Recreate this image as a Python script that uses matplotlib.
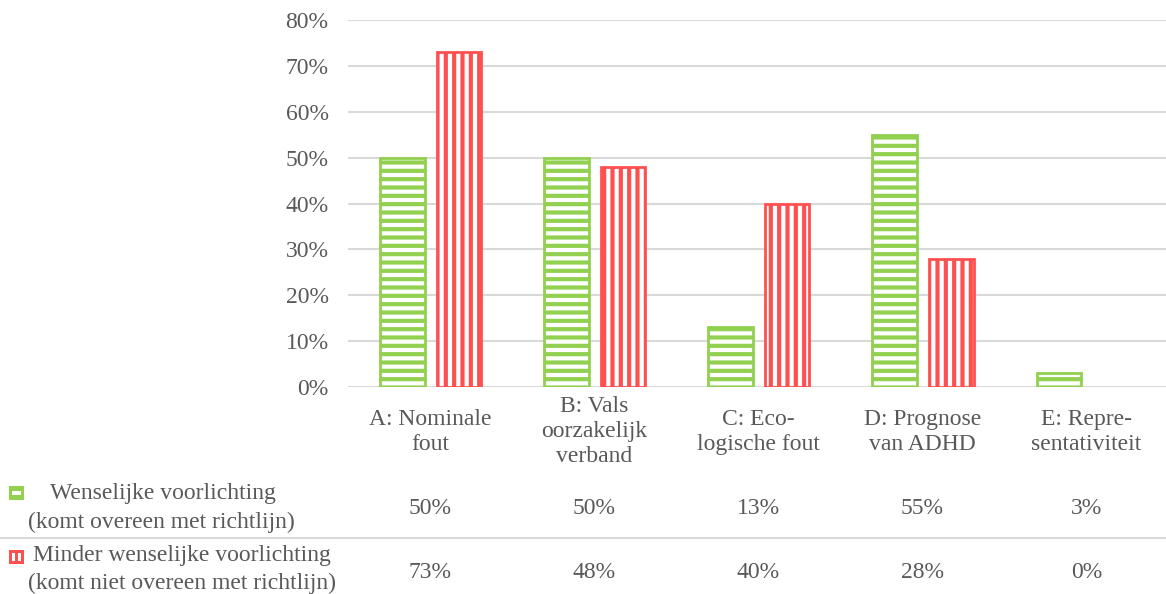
import numpy as np
import matplotlib
matplotlib.use("Agg")
import matplotlib.pyplot as plt
from matplotlib import transforms
from matplotlib.patches import Rectangle
from matplotlib.ticker import FuncFormatter

categories = ["A: Nominale\nfout", "B: Vals\noorzakelijk\nverband", "C: Eco-\nlogische fout",
              "D: Prognose\nvan ADHD", "E: Repre-\nsentativiteit"]
wenselijk = [50, 50, 13, 55, 3]
minder = [73, 48, 40, 28, 0]
series_labels = [("Wenselijke voorlichting", "(komt overeen met richtlijn)"),
                 ("Minder wenselijke voorlichting", "(komt niet overeen met richtlijn)")]

green = "#92D050"
red = "#FF5050"
grey_text = "#595959"
grid_col = "#D9D9D9"

plt.rcParams["font.family"] = ["Liberation Serif", "DejaVu Serif"]
plt.rcParams["hatch.linewidth"] = 3.0
fs = 17

W, H = 1166, 594
fig = plt.figure(figsize=(W / 100, H / 100), dpi=100)
ax = fig.add_axes([348 / W, 1 - 387 / H, 0.7035, (387 - 20) / H])

x = np.arange(len(categories))
# zero-height bars show nothing in the original
g_edges = [green if v > 0 else "none" for v in wenselijk]
r_edges = [red if v > 0 else "none" for v in minder]
b1 = ax.bar(x - 0.168, wenselijk, 0.27, facecolor="white", edgecolor=g_edges, hatch="--", linewidth=2, zorder=3)
b2 = ax.bar(x + 0.178, minder, 0.27, facecolor="white", edgecolor=r_edges, hatch="||", linewidth=2, zorder=3)
for p in list(b1) + list(b2):
    if hasattr(p, "set_hatch_linewidth"):
        p.set_hatch_linewidth(3.0)

ax.set_xlim(-0.5, len(categories) - 0.5)
ax.set_ylim(0, 80)
ax.set_yticks(range(0, 81, 10))
ax.yaxis.set_major_formatter(FuncFormatter(lambda v, p: f"{v:.0f}%"))
ax.set_xticks([])
ax.tick_params(axis="y", length=0, pad=14, labelsize=fs, labelcolor=grey_text)
ax.grid(axis="y", color=grid_col, linewidth=1.5, zorder=0)
for s in ax.spines.values():
    s.set_visible(False)

# data table below the chart
tr = transforms.blended_transform_factory(ax.transData, fig.transFigure)
for i, c in enumerate(categories):
    ax.text(i, 1 - 432 / H, c, transform=tr, ha="center", va="center", fontsize=fs,
            color=grey_text, linespacing=1.25)
    ax.text(i, 1 - 508 / H, f"{wenselijk[i]}%", transform=tr, ha="center", va="center",
            fontsize=fs, color=grey_text)
    ax.text(i, 1 - 572 / H, f"{minder[i]}%", transform=tr, ha="center", va="center",
            fontsize=fs, color=grey_text)

fig.add_artist(plt.Line2D([0, 1], [1 - 538 / H, 1 - 538 / H], color=grid_col, linewidth=1.5))

# row labels with legend keys
fig.text(50 / W, 1 - 493 / H, series_labels[0][0], ha="left", va="center", fontsize=fs, color=grey_text)
fig.text(28 / W, 1 - 522 / H, series_labels[0][1], ha="left", va="center", fontsize=fs, color=grey_text)
fig.text(33 / W, 1 - 556 / H, series_labels[1][0], ha="left", va="center", fontsize=fs, color=grey_text)
fig.text(28 / W, 1 - 583 / H, series_labels[1][1], ha="left", va="center", fontsize=fs, color=grey_text)

def key(y_px, color, slits):
    fig.add_artist(Rectangle((9 / W, 1 - (y_px + 7) / H), 15 / W, 14 / H, facecolor=color,
                             edgecolor="none", transform=fig.transFigure))
    for (sx, sy, sw, sh) in slits:
        fig.add_artist(Rectangle((sx / W, 1 - (sy + sh) / H), sw / W, sh / H, facecolor="white",
                                 edgecolor="none", transform=fig.transFigure))

key(493, green, [(12, 491, 9, 4)])
key(557, red, [(12, 553, 3, 8), (18, 553, 3, 8)])

fig.savefig("out.png", dpi=100)
